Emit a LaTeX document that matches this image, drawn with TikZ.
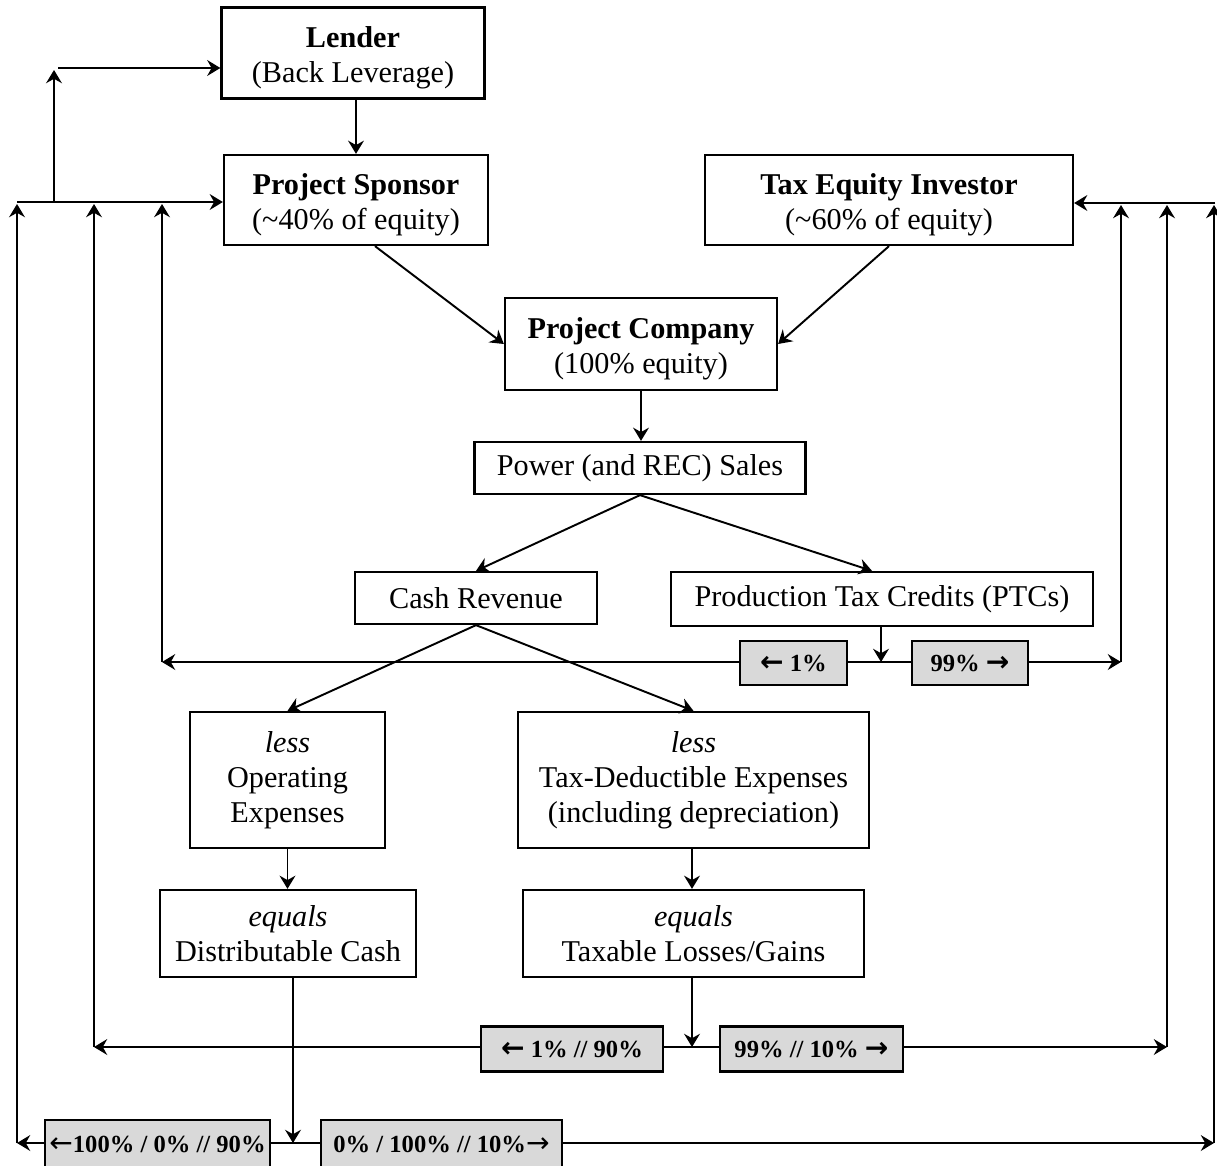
\documentclass[tikz,border=0pt]{standalone}
\usepackage{fontspec}
\setmainfont{Liberation Serif}
\newfontfamily\arrowfont{DejaVu Sans}
\usepackage{tikz}
\usetikzlibrary{arrows.meta,positioning,calc}
\newcommand{\la}{{\arrowfont\fontsize{16}{16}\selectfont ←}}
\newcommand{\ra}{{\arrowfont\fontsize{16}{16}\selectfont →}}
\newcommand{\hd}[1]{\rule{0pt}{17.5pt}\textbf{#1}}

\begin{document}
\begin{tikzpicture}[
  x=0.02cm, y=-0.02cm,
  line width=1.1pt,
  box/.style={draw, line width=1.3pt, fill=white, align=center, inner sep=0pt, font=\fontsize{17.2}{20}\selectfont},
  pct/.style={draw, line width=1.3pt, fill=black!15, inner sep=0pt, minimum height=0.88cm, font=\fontsize{14}{16}\selectfont\bfseries},
  flow/.style={-{Stealth[length=7.5pt, width=9pt, inset=2.5pt]}}]
  \useasboundingbox (0,0) rectangle (1217,1166);
  % owners
  \node[box, minimum width=5.26cm, minimum height=1.82cm] (lender) at (353,53) {\hd{Lender}\\(Back Leverage)};
  \node[box, minimum width=5.28cm, minimum height=1.80cm] (sponsor) at (356,200) {\hd{Project Sponsor}\\(\textasciitilde40\% of equity)};
  \node[box, minimum width=7.36cm, minimum height=1.80cm] (taxeq) at (889,200) {\hd{Tax Equity Investor}\\(\textasciitilde60\% of equity)};
  \node[box, minimum width=5.44cm, minimum height=1.84cm] (projco) at (641,344) {\hd{Project Company}\\(100\% equity)};
  \draw[flow] (lender.south -| 356,0) -- (sponsor.north -| 356,0);
  \draw[flow] ([xshift=0.38cm]sponsor.south) -- (projco.west);
  \draw[flow] (taxeq.south) -- (projco.east);
  % revenue
  \node[box, minimum width=6.62cm, minimum height=1.04cm] (sales) at (640,468) {Power (and REC) Sales};
  \node[box, minimum width=4.84cm, minimum height=1.04cm] (cash) at (476,598) {Cash Revenue};
  \node[box, minimum width=8.44cm, minimum height=1.08cm] (ptc) at (882,599) {Production Tax Credits (PTCs)};
  \draw[flow] (projco.south) -- (sales.north -| projco.south);
  \draw[flow] (sales.south) -- (cash.north);
  \draw[flow] (sales.south) -- ([xshift=-0.2cm]ptc.north);
  % expenses
  \node[box, minimum width=3.90cm, minimum height=2.72cm] (opex) at (287.5,780) {\textit{less}\\Operating\\Expenses};
  \node[box, minimum width=7.02cm, minimum height=2.72cm] (taxded) at (693.5,780) {\textit{less}\\Tax-Deductible Expenses\\(including depreciation)};
  \node[box, minimum width=5.12cm, minimum height=1.74cm] (distcash) at (288,933.5) {\textit{equals}\\Distributable Cash};
  \node[box, minimum width=6.82cm, minimum height=1.74cm] (taxable) at (693.5,933.5) {\textit{equals}\\Taxable Losses/Gains};
  \draw[flow] (cash.south) -- (opex.north);
  \draw[flow] (cash.south) -- (taxded.north);
  \draw[flow] (opex.south) -- (distcash.north -| opex.south);
  \draw[flow] (taxded.south -| 692,0) -- (taxable.north -| 692,0);
  % split points
  \coordinate (ptcs) at (881,662);
  \coordinate (taxs) at (692,1047);
  \coordinate (cashs) at (293,1143);
  \coordinate (ptcL) at (162,662);
  \coordinate (ptcR) at (1121,662);
  \coordinate (taxL) at (94,1047);
  \coordinate (taxR) at (1167,1047);
  \coordinate (cashL) at (17,1143);
  \coordinate (cashR) at (1214,1143);
  \coordinate (spL) at (17,202);
  \coordinate (teR) at (1215,203);
  \coordinate (levb) at (54,202);
  \coordinate (levt) at (54,70);
  \coordinate (levs) at (58,68);
  \draw[flow] (ptc.south -| ptcs) -- (ptcs);
  \draw[flow] (taxable.south -| taxs) -- (taxs);
  \draw[flow] (distcash.south -| cashs) -- (cashs);
  \draw[flow] (ptcs) -- (ptcL);
  \draw[flow] (ptcs) -- (ptcR);
  \draw[flow] (taxs) -- (taxL);
  \draw[flow] (taxs) -- (taxR);
  \draw[flow] (cashs) -- (cashL);
  \draw[flow] (cashs) -- (cashR);
  % back to the owners
  \draw[flow] (spL) -- (sponsor.west |- spL);
  \draw[flow] (teR) -- (taxeq.east |- teR);
  \draw[flow] (levb) -- (levt);
  \draw[flow] (levs) -- (lender.west |- levs);
  \foreach \c in {ptcL,taxL,cashL}
    \draw[flow] (\c) -- (\c |- 0,204);
  \foreach \c in {ptcR,taxR,cashR}
    \draw[flow] (\c) -- (\c |- 0,205);
  % shares
  \node[pct, minimum width=2.14cm] (ptcl) at (793.5,663) {{\bfseries\la} 1\%};
  \node[pct, minimum width=2.32cm] (ptcr) at (970,663) {99\% {\bfseries\ra}};
  \node[pct, minimum width=3.64cm, minimum height=0.90cm] (taxl) at (572,1049) {{\bfseries\la} 1\% // 90\%};
  \node[pct, minimum width=3.66cm, minimum height=0.90cm] (taxr) at (811.5,1049) {99\% // 10\% {\bfseries\ra}};
  \node[pct, minimum width=4.50cm, minimum height=0.96cm] (cashl) at (157.5,1144) {{\mdseries\la}100\% / 0\% // 90\%};
  \node[pct, minimum width=4.82cm, minimum height=0.96cm] (cashr) at (441.5,1144) {0\% / 100\% // 10\%{\mdseries\ra}};
\end{tikzpicture}
\end{document}
